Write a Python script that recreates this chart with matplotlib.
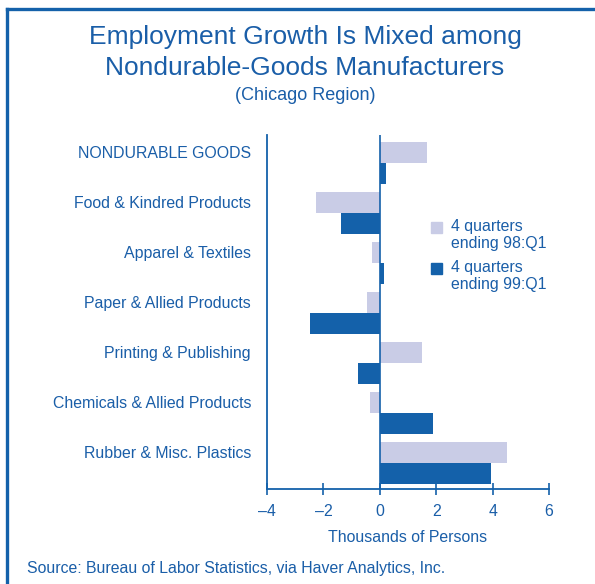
import matplotlib
matplotlib.use("Agg")
import matplotlib.pyplot as plt
from matplotlib.lines import Line2D
from matplotlib.patches import Rectangle
import numpy as np

plt.rcParams['font.family'] = ['Liberation Sans', 'DejaVu Sans']

BLUE = '#1461aa'
LIGHT = '#c9cce6'
TXT = '#1a5ea8'

categories = ['NONDURABLE GOODS', 'Food & Kindred Products', 'Apparel & Textiles',
              'Paper & Allied Products', 'Printing & Publishing',
              'Chemicals & Allied Products', 'Rubber & Misc. Plastics']
q98 = [1.68, -2.25, -0.26, -0.44, 1.48, -0.33, 4.52]
q99 = [0.22, -1.36, 0.15, -2.46, -0.76, 1.90, 3.95]
series_labels = ['4 quarters\nending 98:Q1', '4 quarters\nending 99:Q1']
xticks = [-4, -2, 0, 2, 4, 6]
xticklabels = ['\u20134', '\u20132', '0', '2', '4', '6']

fig = plt.figure(figsize=(5.95, 5.84), dpi=100)
ax = fig.add_axes([267 / 595, 1 - 489 / 584, 282 / 595, 354 / 584])

y = np.arange(len(categories))
h = 0.42
ax.barh(y, q98, height=h, color=LIGHT, zorder=2)
ax.barh(y + h, q99, height=h, color=BLUE, zorder=2)
ax.axvline(0, color=BLUE, lw=1.2, zorder=3)

ax.set_xlim(-4, 6)
ax.set_ylim(6.74, -0.34)
ax.set_xticks(xticks)
ax.set_xticklabels(xticklabels, fontsize=11.4, color=TXT)
ax.set_yticks(y)
ax.set_yticklabels(categories, fontsize=11.4, color=TXT)
ax.tick_params(axis='y', length=0, pad=11.5)
ax.tick_params(axis='x', direction='inout', length=9, width=1.2, color=BLUE, pad=6)
for s in ['top', 'right']:
    ax.spines[s].set_visible(False)
for s in ['left', 'bottom']:
    ax.spines[s].set_color(BLUE)
    ax.spines[s].set_linewidth(1.3)
ax.set_xlabel('Thousands of Persons', fontsize=11.4, color=TXT, labelpad=8)

# legend drawn by hand so the swatch sits on the first line
for i, (lab, col) in enumerate(zip(series_labels, [LIGHT, BLUE])):
    ty = 1 - (227 + 41 * i) / 584
    fig.add_artist(Rectangle((431 / 595, ty - 5.5 / 584), 11 / 595, 11 / 584,
                             transform=fig.transFigure, color=col))
    fig.text(451 / 595, ty + 8 / 584, lab, fontsize=11.4, color=TXT,
             va='top', ha='left', linespacing=1.2)

fig.text(305 / 595, 1 - 37 / 584, 'Employment Growth Is Mixed among',
         fontsize=19, color=TXT, ha='center', va='center')
fig.text(305 / 595, 1 - 68 / 584, 'Nondurable-Goods Manufacturers',
         fontsize=19, color=TXT, ha='center', va='center')
fig.text(305 / 595, 1 - 95 / 584, '(Chicago Region)',
         fontsize=13, color=TXT, ha='center', va='center')
fig.text(27 / 595, 1 - 569 / 584, 'Source: Bureau of Labor Statistics, via Haver Analytics, Inc.',
         fontsize=11.4, color=TXT, ha='left', va='center')

# frame lines on top and left
fig.add_artist(Line2D([7 / 595, 1], [1 - 9 / 584, 1 - 9 / 584], color=BLUE, lw=2.4,
                      transform=fig.transFigure))
fig.add_artist(Line2D([7 / 595, 7 / 595], [0, 1 - 9 / 584], color=BLUE, lw=2.4,
                      transform=fig.transFigure))

fig.savefig('out.png', dpi=100)
